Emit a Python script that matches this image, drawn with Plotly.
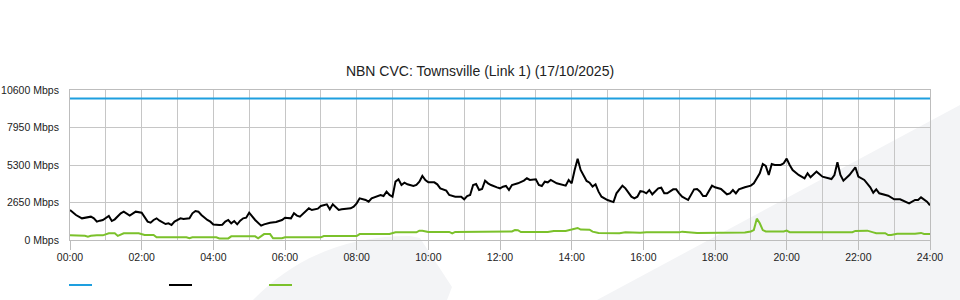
import plotly.graph_objects as go

# ---------------- data ----------------
title_text = "NBN CVC: Townsville (Link 1) (17/10/2025)"
x_tick_labels = ["00:00", "02:00", "04:00", "06:00", "08:00", "10:00", "12:00",
                 "14:00", "16:00", "18:00", "20:00", "22:00", "24:00"]
y_tick_values = [0, 2650, 5300, 7950, 10600]
y_tick_labels = ["0 Mbps", "2650 Mbps", "5300 Mbps", "7950 Mbps", "10600 Mbps"]

capacity_times = ["00:00", "24:00"]
capacity_values = [10000, 10000]

black_times = [
    "00:00", "00:10", "00:20", "00:25", "00:35", "00:40", "00:45", "00:50", "00:55", "01:05",
    "01:10", "01:15", "01:25", "01:30", "01:35", "01:40", "01:50", "01:55", "02:00", "02:10",
    "02:15", "02:20", "02:25", "02:30", "02:40", "02:45", "02:50", "02:55", "03:05", "03:10",
    "03:20", "03:25", "03:30", "03:35", "03:40", "03:50", "03:55", "04:00", "04:05", "04:10",
    "04:15", "04:20", "04:25", "04:30", "04:35", "04:40", "04:45", "04:50", "04:55", "05:00",
    "05:10", "05:20", "05:25", "05:35", "05:45", "05:55", "06:00", "06:10", "06:15", "06:20",
    "06:25", "06:35", "06:40", "06:45", "06:55", "07:00", "07:10", "07:15", "07:20", "07:30",
    "07:35", "07:50", "07:55", "08:00", "08:05", "08:15", "08:20", "08:25", "08:35", "08:40",
    "08:45", "08:50", "08:55", "09:00", "09:05", "09:10", "09:15", "09:20", "09:25", "09:35",
    "09:40", "09:45", "09:50", "09:55", "10:00", "10:10", "10:15", "10:20", "10:30", "10:35",
    "10:45", "10:55", "11:00", "11:05", "11:10", "11:15", "11:20", "11:25", "11:30", "11:35",
    "11:40", "11:45", "11:55", "12:00", "12:05", "12:10", "12:15", "12:20", "12:30", "12:40",
    "12:45", "12:50", "13:00", "13:05", "13:10", "13:15", "13:20", "13:25", "13:35", "13:45",
    "13:50", "13:55", "14:00", "14:05", "14:10", "14:15", "14:25", "14:30", "14:35", "14:40",
    "14:45", "14:50", "15:00", "15:10", "15:15", "15:25", "15:30", "15:40", "15:45", "15:50",
    "15:55", "16:00", "16:05", "16:10", "16:15", "16:25", "16:30", "16:35", "16:40", "16:50",
    "16:55", "17:00", "17:05", "17:15", "17:20", "17:25", "17:30", "17:35", "17:40", "17:45",
    "17:55", "18:00", "18:10", "18:15", "18:20", "18:25", "18:30", "18:35", "18:40", "18:50",
    "19:00", "19:05", "19:10", "19:15", "19:20", "19:25", "19:30", "19:35", "19:40", "19:50",
    "19:55", "20:00", "20:05", "20:10", "20:20", "20:25", "20:30", "20:35", "20:40", "20:50",
    "21:00", "21:15", "21:20", "21:25", "21:30", "21:35", "21:45", "21:55", "22:00", "22:10",
    "22:20", "22:25", "22:30", "22:35", "22:50", "23:00", "23:10", "23:25", "23:35", "23:40",
    "23:45", "23:55", "24:00",
]
black_values = [
    2120, 1767, 1531, 1578, 1649, 1531, 1296, 1366, 1414, 1696,
    1343, 1461, 1885, 2003, 1885, 1720, 2003, 1979, 1932, 1296,
    1225, 1414, 1531, 1366, 1131, 1178, 1060, 1296, 1531, 1484,
    1531, 1885, 2050, 2003, 1767, 1414, 1296, 1100, 1060, 1060,
    1080, 1296, 1414, 1178, 1343, 1107, 1366, 1531, 1578, 1932,
    1414, 1013, 1107, 1225, 1272, 1414, 1578, 1531, 1885, 1720,
    1649, 2003, 2238, 2120, 2215, 2403, 2521, 2167, 2521, 2120,
    2167, 2238, 2356, 2592, 2945, 2827, 2709, 2945, 3110, 3181,
    3110, 3416, 3181, 3063, 4123, 4288, 3887, 4052, 3935, 3817,
    3887, 4123, 4524, 4241, 4076, 4076, 3935, 3652, 3487, 3181,
    3063, 3063, 2874, 3110, 3181, 3887, 3958, 3534, 3605, 4194,
    4005, 3887, 3722, 3652, 3770, 3817, 3534, 3887, 4005, 4194,
    4359, 4241, 4288, 3887, 3817, 4123, 4076, 4241, 4005, 3887,
    3840, 4241, 4005, 4948, 5750, 4948, 4170, 4052, 3770, 3935,
    3416, 3063, 2827, 2680, 3298, 3840, 3652, 3063, 2945, 3063,
    3450, 3420, 3298, 3534, 3228, 3652, 3699, 3298, 3298, 3581,
    3581, 3298, 3063, 2827, 3181, 3581, 3605, 3416, 3110, 3110,
    3840, 3722, 3605, 3416, 3228, 3298, 3534, 3298, 3581, 3722,
    3840, 4005, 4359, 4712, 5372, 5230, 4594, 5372, 5301, 5301,
    5419, 5750, 5301, 4948, 4594, 4476, 4359, 4712, 4429, 4830,
    4476, 4311, 4594, 5500, 4594, 4194, 4594, 5136, 4476, 4241,
    3722, 3345, 3581, 3298, 3133, 2874, 2874, 2592, 2827, 2827,
    3016, 2709, 2450,
]

green_times = [
    "00:00", "00:15", "00:25", "00:30", "00:35", "00:45", "00:55", "01:05", "01:15", "01:20",
    "01:30", "01:55", "02:05", "02:20", "02:25", "03:15", "03:20", "03:25", "04:05", "04:10",
    "04:25", "04:30", "05:10", "05:15", "05:25", "05:35", "05:40", "05:55", "06:00", "07:00",
    "07:05", "08:00", "08:05", "08:55", "09:05", "09:40", "09:45", "09:50", "10:00", "10:35",
    "10:40", "10:45", "11:05", "11:10", "12:20", "12:25", "12:30", "12:35", "13:20", "13:30",
    "13:50", "14:00", "14:10", "14:15", "14:30", "14:35", "14:45", "15:20", "15:30", "15:55",
    "16:05", "17:00", "17:05", "17:30", "17:45", "17:50", "18:50", "19:00", "19:05", "19:10",
    "19:15", "19:20", "19:25", "19:55", "20:00", "20:05", "20:40", "20:50", "20:55", "21:50",
    "21:55", "22:15", "22:25", "22:30", "22:45", "22:50", "22:55", "23:05", "23:35", "23:45",
    "23:50", "24:00",
]
green_values = [
    330, 330, 300, 240, 300, 330, 330, 470, 470, 290,
    470, 470, 350, 350, 190, 190, 120, 190, 190, 110,
    110, 260, 260, 120, 420, 420, 120, 120, 190, 190,
    280, 280, 420, 420, 540, 540, 660, 660, 570, 570,
    470, 570, 570, 600, 600, 700, 690, 560, 560, 640,
    640, 740, 850, 740, 730, 590, 490, 480, 540, 520,
    540, 540, 590, 500, 500, 530, 530, 600, 700, 1510,
    1180, 700, 600, 600, 660, 550, 550, 600, 550, 550,
    640, 660, 540, 480, 480, 350, 350, 440, 440, 500,
    430, 424,
]

# ---------------- helpers ----------------
def to_hours(t):
    h, m = t.split(":")
    return int(h) + int(m) / 60.0

FONT = "Liberation Sans, Arial, sans-serif"
GRID = "#c6c6c6"
AXIS = "#bdbdbd"
BLUE = "#1e9fdf"
BLACK = "#000000"
GREEN = "#7bc12b"
WATERMARK = "#f3f4f6"
TXT = "#222222"

L, R, T, B = 70, 30, 90, 60
W, H = 960, 300
PW, PH = W - L - R, H - T - B


def P(px, py):
    return (px - L) / PW, (H - B - py) / PH


fig = go.Figure()

fig.add_trace(go.Scatter(x=[to_hours(t) for t in capacity_times], y=capacity_values,
                         mode="lines", line=dict(color=BLUE, width=2), hoverinfo="skip"))
fig.add_trace(go.Scatter(x=[to_hours(t) for t in black_times], y=black_values,
                         mode="lines", line=dict(color=BLACK, width=2), hoverinfo="skip"))
fig.add_trace(go.Scatter(x=[to_hours(t) for t in green_times], y=green_values,
                         mode="lines", line=dict(color=GREEN, width=2), hoverinfo="skip"))

# background watermark shapes (decorative)
a = P(597, 300); b = P(960, 105); c = P(960, 300)
band = f"M {a[0]},{a[1]} L {b[0]},{b[1]} L {c[0]},{c[1]} Z"
p0 = P(253, 300); c1 = P(290, 262); c2 = P(340, 236); p1 = P(410, 236)
p2 = P(420, 238); p3 = P(452, 287); p4 = P(447, 300)
blob = (f"M {p0[0]},{p0[1]} C {c1[0]},{c1[1]} {c2[0]},{c2[1]} {p1[0]},{p1[1]} "
        f"L {p2[0]},{p2[1]} L {p3[0]},{p3[1]} L {p4[0]},{p4[1]} Z")
shapes = [
    dict(type="path", path=band, xref="paper", yref="paper", fillcolor=WATERMARK,
         line=dict(width=0), layer="below"),
    dict(type="path", path=blob, xref="paper", yref="paper", fillcolor=WATERMARK,
         line=dict(width=0), layer="below"),
]
# legend samples (no labels in the reference)
for col, x0 in [(BLUE, 69), (BLACK, 169), (GREEN, 269)]:
    s0 = P(x0, 285); s1 = P(x0 + 23, 285)
    shapes.append(dict(type="line", xref="paper", yref="paper", x0=s0[0], y0=s0[1],
                       x1=s1[0], y1=s1[1], line=dict(color=col, width=2)))

fig.update_layout(
    width=W, height=H,
    margin=dict(l=L, r=R, t=T, b=B, pad=0, autoexpand=False),
    paper_bgcolor="white", plot_bgcolor="rgba(0,0,0,0)",
    showlegend=False,
    title=dict(text=title_text, x=0.5, xref="container", xanchor="center",
               y=1 - 71 / H, yref="container", yanchor="middle",
               font=dict(family=FONT, size=14, color=TXT)),
    font=dict(family=FONT, size=10.5, color=TXT),
    shapes=shapes,
    xaxis=dict(
        range=[0, 24], tickmode="array", automargin=False,
        tickvals=[to_hours(t) for t in x_tick_labels], ticktext=x_tick_labels,
        showgrid=True, gridcolor=GRID, gridwidth=1,
        minor=dict(dtick=1, showgrid=True, gridcolor=GRID, gridwidth=1, ticks=""),
        ticks="outside", ticklen=9, tickcolor=AXIS, tickwidth=1,
        ticklabelstandoff=-2,
        showline=True, linecolor=AXIS, linewidth=1, mirror=True,
        zeroline=False, tickfont=dict(family=FONT, size=10.5, color=TXT),
    ),
    yaxis=dict(
        range=[0, 10600], tickmode="array", automargin=False,
        tickvals=y_tick_values, ticktext=y_tick_labels,
        showgrid=True, gridcolor=GRID, gridwidth=1,
        ticks="outside", ticklen=8, tickcolor="rgba(0,0,0,0)",
        showline=True, linecolor=AXIS, linewidth=1, mirror=True,
        zeroline=False, tickfont=dict(family=FONT, size=10.5, color=TXT),
    ),
)

fig.write_html("out.html")
